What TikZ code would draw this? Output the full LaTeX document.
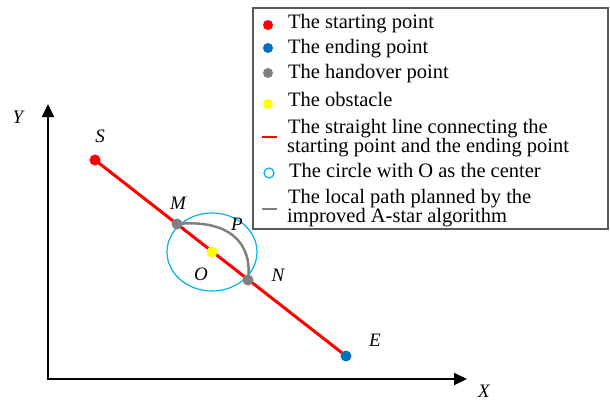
\documentclass[tikz,border=0pt]{standalone}
\usepackage{fontspec}
\setmainfont{Liberation Serif}
\usetikzlibrary{arrows.meta}
\definecolor{sred}{RGB}{255,0,0}
\definecolor{sblue}{RGB}{0,112,192}
\definecolor{sgray}{RGB}{128,128,128}
\definecolor{syellow}{RGB}{255,255,0}
\definecolor{scyan}{RGB}{0,176,240}
\definecolor{sframe}{RGB}{90,90,90}
\begin{document}
\begin{tikzpicture}[x=1pt,y=-1pt,
  dot/.style={circle, minimum size=11pt, inner sep=0pt, draw=none},
  legdot/.style={circle, minimum size=10pt, inner sep=0pt, draw=none},
  legtext/.style={font=\fontsize{20.5}{20}\selectfont, inner sep=0pt, anchor=base west},
  lab/.style={font=\fontsize{19}{19}\selectfont\itshape, inner sep=0pt},
  axis/.style={line width=2pt, black, line join=miter},
  redline/.style={line width=3pt, sred},
  graypath/.style={line width=2.5pt, sgray},
  ring/.style={line width=1.2pt, scyan},
  axtip/.tip={Triangle[length=13pt,width=12pt]}
]
\useasboundingbox (0,0) rectangle (610,400);

% axes
\coordinate (ytip) at (48,104);
\coordinate (origin) at (48,379);
\coordinate (xtip) at (467,379);
\draw[axis, axtip-axtip] (ytip) -- (origin) -- (xtip);
\node[lab] (ylab) at (18,117) {Y};
\node[lab] (xlab) at (484,391) {X};

% points
\coordinate (s) at (95,160);
\coordinate (e) at (346,356);
\coordinate (m) at (177,224);
\coordinate (n) at (248,280);
\coordinate (o) at (212,252);

\draw[ring] (o) ellipse [x radius=45pt, y radius=39pt];
\draw[redline] (s) -- (e);
\draw[graypath] (m) .. controls (228,219) and (253,242) .. (n);

\node[dot, fill=sred] (S) at (s) {};
\node[dot, fill=sblue] (E) at (e) {};
\node[dot, fill=sgray] (M) at (m) {};
\node[dot, fill=sgray] (N) at (n) {};
\node[dot, fill=syellow] (O) at (o) {};

\node[lab] (Slab) at (100,136) {S};
\node[lab] (Elab) at (375,340) {E};
\node[lab] (Mlab) at (178,203) {M};
\node[lab] (Nlab) at (278,275) {N};
\node[lab] (Olab) at (201,274) {O};
\node[lab] (Plab) at (237,224) {P};

% legend
\draw[sframe, line width=1.2pt] (253,8) rectangle (608,229);
\node[legdot, fill=sred] (L1) at (268,25) {};
\node[legdot, fill=sblue] (L2) at (268,48) {};
\node[legdot, fill=sgray] (L3) at (268,73) {};
\node[legdot, fill=syellow] (L4) at (268,104) {};
\draw[line width=2.5pt, sred] (262,137) -- (277,137);
\node[circle, draw=scyan, line width=1.2pt, minimum size=10pt, inner sep=0pt] (L6) at (269,173) {};
\draw[line width=2.5pt, sgray] (262,209) -- (277,209);

\node[legtext] (T1) at (288,28) {The starting point};
\node[legtext] (T2) at (288,53) {The ending point};
\node[legtext] (T3) at (288,78) {The handover point};
\node[legtext] (T4) at (288,106) {The obstacle};
\node[legtext] (T5a) at (288,133) {The straight line connecting the};
\node[legtext] (T5b) at (287,152) {starting point and the ending point};
\node[legtext] (T6) at (289,177) {The circle with O as the center};
\node[legtext] (T7a) at (288,203) {The local path planned by the};
\node[legtext] (T7b) at (287,222) {improved A-star algorithm};
\end{tikzpicture}
\end{document}
